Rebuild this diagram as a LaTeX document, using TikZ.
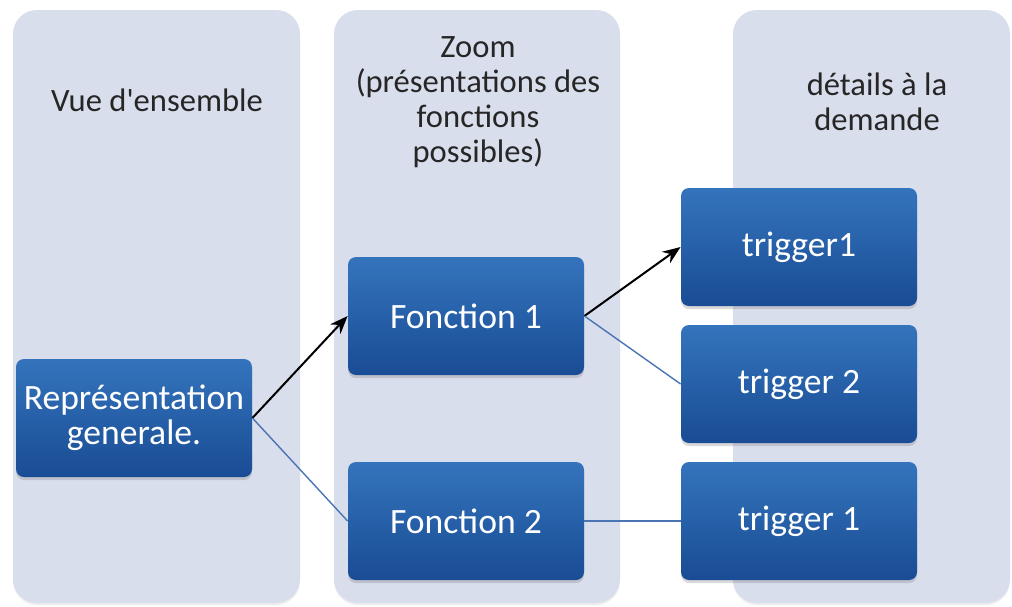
\documentclass[tikz,border=0pt]{standalone}
\usepackage{fontspec}
\setmainfont{Carlito}
\usetikzlibrary{shadows,arrows.meta}
\definecolor{colfond}{HTML}{D9DEEC}
\definecolor{boxtop}{HTML}{3474BC}
\definecolor{boxbot}{HTML}{194C94}
\definecolor{lienbleu}{HTML}{4A74B4}
\begin{document}
\begin{tikzpicture}[x=0.5pt,y=-0.5pt,
    colonne/.style={fill=colfond, rounded corners=12pt, drop shadow={opacity=0.15, shadow xshift=0pt, shadow yshift=-1pt}},
    boite/.style={rounded corners=4pt, top color=boxtop, bottom color=boxbot, text=white,
      minimum width=118pt, minimum height=59pt, align=center, inner sep=1pt,
      font=\fontsize{17.8}{17.5}\selectfont,
      drop shadow={opacity=0.3, shadow xshift=0pt, shadow yshift=-1.5pt}},
    titre/.style={align=center, text=black!85, font=\fontsize{16.3}{17.5}\selectfont},
    fleche/.style={-{Stealth[length=9pt,width=7pt]}, line width=1pt, black},
    lien/.style={line width=0.7pt, lienbleu}]
         \useasboundingbox (0,0) rectangle (1012,606);
         % les trois colonnes
         \path[colonne] (13,10) rectangle (300,603);
         \path[colonne] (334,10) rectangle (620,603);
         \path[colonne] (733,10) rectangle (1010,603);
         \node[titre] (VE) at (157,100) {Vue d\textquotesingle ensemble};
         \node[titre] (ZO) at (478,102) {Zoom\\(présentations des\\fonctions\\possibles)};
         \node[titre] (DD) at (877,102) {détails à la\\demande};
         % les boites
         \node[boite] (RG) at (134,418) {Représentation\\generale.};
         \node[boite] (F1) at (466,316) {Fonction 1};
         \node[boite] (F2) at (466,521) {Fonction 2};
         \node[boite] (TA) at (799,247) {trigger1};
         \node[boite] (TB) at (799,384) {trigger 2};
         \node[boite] (TC) at (799,521) {trigger 1};
         % les liens
         \draw [fleche] (RG.east) -- (F1.west);
         \draw [lien] (RG.east) -- (F2.west);
         \draw [fleche] (F1.east) -- (TA.west);
         \draw [lien] (F1.east) -- (TB.west);
         \draw [lien] (F2.east) -- (TC.west);
\end{tikzpicture}
\end{document}
